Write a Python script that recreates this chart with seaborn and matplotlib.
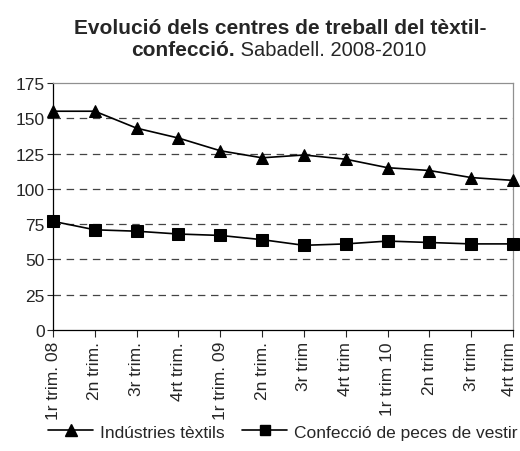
import matplotlib
matplotlib.use("Agg")
import matplotlib.pyplot as plt
import matplotlib.transforms as mtransforms
import seaborn as sns
import pandas as pd
from matplotlib.lines import Line2D

categories = ["1r trim. 08", "2n trim.", "3r trim.", "4rt trim.", "1r trim. 09", "2n trim.",
              "3r trim", "4rt trim", "1r trim 10", "2n trim", "3r trim", "4rt trim"]
textils = [155, 155, 143, 136, 127, 122, 124, 121, 115, 113, 108, 106]
confeccio = [77, 71, 70, 68, 67, 64, 60, 61, 63, 62, 61, 61]
series_names = ["Indústries tèxtils", "Confecció de peces de vestir"]

sns.set_theme(style="white")
plt.rcParams['font.family'] = ['Liberation Sans', 'DejaVu Sans']

fig = plt.figure(figsize=(5.2, 4.52), dpi=100)
ax = fig.add_axes([53/520, 1-331/452, (513-53)/520, (331-84)/452])

idx = list(range(len(categories)))
df = pd.DataFrame({"x": idx * 2,
                   "y": textils + confeccio,
                   "serie": [series_names[0]] * len(idx) + [series_names[1]] * len(idx)})
sns.lineplot(data=df, x="x", y="y", hue="serie", style="serie",
             markers={series_names[0]: "^", series_names[1]: "s"}, dashes=False,
             palette={series_names[0]: "black", series_names[1]: "black"},
             markersize=8, linewidth=1.2, markeredgecolor="black", ax=ax, legend=False,
             zorder=3, clip_on=False)

ax.set_xlim(0, 11)
ax.set_ylim(0, 175)
ax.set_yticks(range(0, 176, 25))
ax.set_xticks(idx)
ax.set_xticklabels(categories, rotation=90, fontsize=12.5)
ax.tick_params(axis='y', labelsize=12.5, length=4, direction='out', left=True, width=0.8, pad=2)
ax.tick_params(axis='x', length=5, direction='out', bottom=True, width=0.8, pad=3)
ax.set_xlabel("")
ax.set_ylabel("")
last = ax.get_xticklabels()[-1]
last.set_transform(last.get_transform() + mtransforms.ScaledTranslation(-3/100, 0, fig.dpi_scale_trans))

for v in range(25, 151, 25):
    ax.axhline(v, color="#444444", linewidth=0.9, linestyle=(0, (6, 4.5)), zorder=1)

for s in ["left", "bottom"]:
    ax.spines[s].set_color("black")
    ax.spines[s].set_linewidth(0.9)
for s in ["top", "right"]:
    ax.spines[s].set_color("#909090")
    ax.spines[s].set_linewidth(0.9)

# Title
fig.text(280/520, 1-28/452, "Evolució dels centres de treball del tèxtil-", ha="center", va="center",
         fontsize=15, fontweight="bold")
fig.canvas.draw()
r = fig.canvas.get_renderer()
tb = fig.text(0, 1-50/452, "confecció.", ha="left", va="center", fontsize=15, fontweight="bold")
tn = fig.text(0, 1-50/452, " Sabadell. 2008-2010", ha="left", va="center", fontsize=14.5)
wb = tb.get_window_extent(r).width
wn = tn.get_window_extent(r).width
start = 279 - (wb + wn) / 2
tb.set_x(start / 520)
tn.set_x((start + wb) / 520)

handles = [Line2D([], [], color="black", marker="^", markersize=8, linewidth=1.2),
           Line2D([], [], color="black", marker="s", markersize=7, linewidth=1.2)]
fig.legend(handles, series_names, loc="center", bbox_to_anchor=(283/520, 1-433/452), ncol=2,
           frameon=False, fontsize=12.5, handlelength=2.6, columnspacing=1.0, handletextpad=0.4)

fig.savefig("out.png", dpi=100)
